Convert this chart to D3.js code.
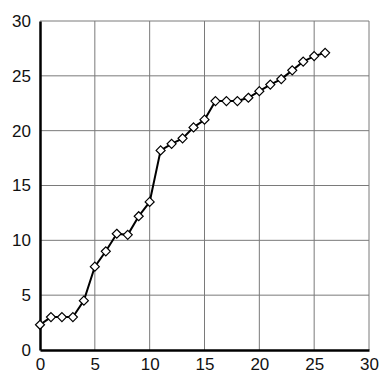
<!DOCTYPE html>
<html>
<head>
<meta charset="utf-8">
<script src="https://cdn.jsdelivr.net/npm/d3@7"></script>
<style>
  body { margin: 0; background: #fff; }
</style>
</head>
<body>
<div id="graph"></div>
<script>
// data
var xs = [0, 1, 2, 3, 4, 5, 6, 7, 8, 9, 10, 11, 12, 13, 14, 15, 16, 17, 18, 19, 20, 21, 22, 23, 24, 25, 26];
var ys = [2.3, 3.0, 3.0, 3.0, 4.5, 7.6, 9.0, 10.6, 10.5, 12.2, 13.5, 18.2, 18.8, 19.3, 20.3, 21.0, 22.7, 22.7, 22.7, 23.0, 23.6, 24.2, 24.7, 25.5, 26.3, 26.8, 27.1];
var xTicks = [0, 5, 10, 15, 20, 25, 30];
var yTicks = [0, 5, 10, 15, 20, 25, 30];

var data = xs.map(function(d, i) { return { x: d, y: ys[i] }; });

var margin = { top: 21, right: 10, bottom: 26, left: 40 },
    width = 379 - margin.left - margin.right,
    height = 376 - margin.top - margin.bottom;

var svg = d3.select('#graph').append('svg')
    .attr('width', 379)
    .attr('height', 376)
    .append('g')
    .attr('transform', 'translate(' + margin.left + ',' + margin.top + ')');

var x = d3.scaleLinear().domain([0, 30]).range([0, width]);
var y = d3.scaleLinear().domain([0, 30]).range([height, 0]);

// grid
svg.append('g')
    .selectAll('line.v')
    .data(xTicks.slice(1))
    .enter().append('line')
      .attr('x1', function(d) { return x(d); })
      .attr('x2', function(d) { return x(d); })
      .attr('y1', 0)
      .attr('y2', height)
      .style('stroke', '#7a7a7a')
      .style('stroke-width', 1);

svg.append('g')
    .selectAll('line.h')
    .data(yTicks.slice(1))
    .enter().append('line')
      .attr('x1', 0)
      .attr('x2', width)
      .attr('y1', function(d) { return y(d); })
      .attr('y2', function(d) { return y(d); })
      .style('stroke', '#7a7a7a')
      .style('stroke-width', 1);

// axes
var xAxis = svg.append('g')
    .attr('transform', 'translate(0,' + height + ')')
    .call(d3.axisBottom(x).tickValues(xTicks).tickSize(0).tickPadding(8));
xAxis.select('.domain').style('stroke', '#000').style('stroke-width', 2.5);

var yAxis = svg.append('g')
    .call(d3.axisLeft(y).tickValues(yTicks).tickSize(0).tickPadding(9));
yAxis.select('.domain').style('stroke', '#000').style('stroke-width', 2.5);

svg.selectAll('.tick text')
    .style('font-family', 'Liberation Sans, Arial, sans-serif')
    .style('font-size', '17px')
    .style('fill', '#111');

// line
var line = d3.line()
    .x(function(d) { return x(d.x); })
    .y(function(d) { return y(d.y); });

svg.append('path')
    .datum(data)
    .attr('d', line)
    .style('fill', 'none')
    .style('stroke', '#000')
    .style('stroke-width', 2);

// diamond markers
svg.selectAll('.pt')
    .data(data)
    .enter().append('path')
      .attr('class', 'pt')
      .attr('transform', function(d) { return 'translate(' + x(d.x) + ',' + y(d.y) + ')'; })
      .attr('d', 'M0,-4.5L4.5,0L0,4.5L-4.5,0Z')
      .style('fill', '#fff')
      .style('stroke', '#000')
      .style('stroke-width', 1.2);
</script>
</body>
</html>
